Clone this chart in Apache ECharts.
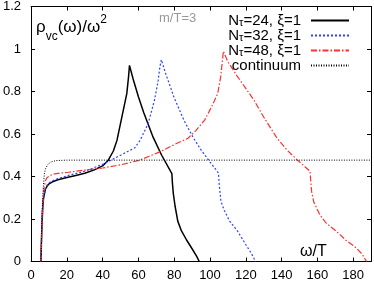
<!DOCTYPE html>
<html><head><meta charset="utf-8">
<script src="https://cdn.jsdelivr.net/npm/echarts@6/dist/echarts.min.js"></script>
<style>html,body{margin:0;padding:0;background:#fff}#c{width:374px;height:282px}</style>
</head><body><div id="c"></div>
<script>
// ---- data ----
const xTicks = [0, 20, 40, 60, 80, 100, 120, 140, 160, 180];
const yTicks = [0, 0.2, 0.4, 0.6, 0.8, 1, 1.2];
const names = ['Nτ=24, ξ=1', 'Nτ=32, ξ=1', 'Nτ=48, ξ=1', 'continuum'];

const w24 = [5.5, 6, 6.5, 7, 8, 9, 10, 12, 15, 20, 25, 30, 35, 40, 43, 46, 48, 50, 52, 53.5, 54.5, 55, 57, 60, 63, 65.5, 68.2, 73, 78.7, 79, 79.5, 80.5, 82, 84, 87, 90, 92.5, 94];
const r24 = [0, 0.15, 0.25, 0.3, 0.34, 0.355, 0.365, 0.375, 0.385, 0.395, 0.405, 0.415, 0.43, 0.45, 0.475, 0.52, 0.57, 0.65, 0.73, 0.79, 0.87, 0.923, 0.86, 0.775, 0.7, 0.645, 0.585, 0.5, 0.414, 0.37, 0.32, 0.26, 0.19, 0.145, 0.1, 0.06, 0.025, 0];

const w32 = [5.5, 6, 6.5, 7, 8, 9, 10, 12, 15, 21, 30, 40, 50, 58, 61, 65.5, 69, 71, 72, 72.8, 75, 80, 85.7, 90.5, 95, 99.7, 104.7, 105.2, 106.1, 108, 111, 115.4, 120, 123, 125.5];
const r32 = [0, 0.15, 0.25, 0.3, 0.34, 0.36, 0.37, 0.38, 0.39, 0.405, 0.425, 0.457, 0.5, 0.535, 0.571, 0.65, 0.76, 0.85, 0.915, 0.95, 0.89, 0.77, 0.66, 0.585, 0.525, 0.472, 0.417, 0.36, 0.284, 0.24, 0.19, 0.143, 0.08, 0.04, 0];

const w48 = [5.5, 6, 6.5, 7, 8, 9, 10, 12, 15, 21, 30, 40, 50, 60.7, 66, 72.8, 80, 87.7, 92, 97, 101, 104.3, 106, 107.5, 110, 115, 120, 124.6, 130, 137.5, 143, 148.5, 155.9, 156.4, 156.8, 158, 161.4, 165, 170.6, 176, 181.6, 185, 187.5];
const r48 = [0, 0.16, 0.27, 0.33, 0.38, 0.395, 0.402, 0.41, 0.415, 0.42, 0.43, 0.44, 0.455, 0.477, 0.495, 0.519, 0.55, 0.58, 0.615, 0.665, 0.73, 0.79, 0.87, 0.99, 0.94, 0.875, 0.815, 0.759, 0.68, 0.58, 0.525, 0.48, 0.425, 0.37, 0.33, 0.28, 0.22, 0.18, 0.143, 0.1, 0.065, 0.035, 0];

const wC = [5.5, 6, 6.5, 7, 7.4, 8, 9.3, 11, 14, 20, 190];
const rC = [0, 0.2, 0.3, 0.37, 0.41, 0.435, 0.456, 0.468, 0.475, 0.477, 0.477];

const zip = (a, b) => a.map((v, i) => [v, b[i]]);
const FONT = 'Liberation Sans, Arial, Helvetica, sans-serif';

const chart = echarts.init(document.getElementById('c'), null, {renderer: 'canvas'});
const axisCommon = {
  axisLine: {show: true, onZero: false, lineStyle: {color: '#000', width: 1}},
  axisTick: {show: true, inside: true, length: 4, lineStyle: {color: '#000'}},
  splitLine: {show: false}
};
chart.setOption({
  animation: false,
  grid: {left: 28, right: 1.5, top: 6, bottom: 20.5, containLabel: false},
  xAxis: [
    Object.assign({type: 'value', min: 0, max: 190, interval: 20, position: 'bottom',
      axisLabel: {color: '#000', fontFamily: FONT, fontSize: 13, margin: 7,
        formatter: v => xTicks.includes(v) ? String(v) : ''}}, axisCommon),
    Object.assign({type: 'value', min: 0, max: 190, interval: 20, position: 'top',
      axisLabel: {show: false}}, axisCommon)
  ],
  yAxis: [
    Object.assign({type: 'value', min: 0, max: 1.2, interval: 0.2, position: 'left',
      axisLabel: {color: '#000', fontFamily: FONT, fontSize: 13, margin: 10,
        formatter: v => { const t = yTicks.find(y => Math.abs(y - v) < 1e-9); return t === undefined ? '' : String(t); }}}, axisCommon),
    Object.assign({type: 'value', min: 0, max: 1.2, interval: 0.2, position: 'right',
      axisLabel: {show: false}}, axisCommon)
  ],
  legend: {
    orient: 'vertical', right: 19, top: 8, align: 'right',
    itemWidth: 38, itemHeight: 10, itemGap: 0,
    data: names,
    itemStyle: {color: 'transparent', borderColor: 'transparent', borderWidth: 0, opacity: 0},
    formatter: function (name) {
      if (name === 'continuum') return '{t|continuum}';
      return '{t|N}{s|τ}{t|' + name.slice(2) + '}';
    },
    textStyle: {
      color: '#000', fontFamily: FONT, fontSize: 15, lineHeight: 15, padding: [0, 5, 0, 0],
      rich: {
        t: {fontSize: 15, fontFamily: FONT, color: '#000', lineHeight: 15},
        s: {fontSize: 11, fontFamily: FONT, color: '#000', verticalAlign: 'bottom', lineHeight: 9}
      }
    }
  },
  graphic: [
    {type: 'text', left: 36, top: 14, silent: true,
      style: {
        text: '{a|ρ}{b|vc}{a|(ω)/ω}{c|2}',
        rich: {
          a: {fontSize: 17, fontFamily: FONT, fill: '#000', lineHeight: 22, verticalAlign: 'bottom'},
          b: {fontSize: 12, fontFamily: FONT, fill: '#000', lineHeight: 22, verticalAlign: 'bottom', padding: [0, 0, -7, 0]},
          c: {fontSize: 12, fontFamily: FONT, fill: '#000', lineHeight: 22, verticalAlign: 'top'}
        }
      }},
    {type: 'text', left: 159, top: 12, silent: true,
      style: {text: 'm/T=3', fontSize: 13, fontFamily: FONT, fill: '#999'}},
    {type: 'text', left: 300, top: 244, silent: true,
      style: {text: 'ω/T', fontSize: 16, fontFamily: FONT, fill: '#000'}}
  ],
  series: [
    {name: names[0], type: 'line', data: zip(w24, r24), symbol: 'none', smooth: false,
      lineStyle: {color: '#000', width: 1.5, type: 'solid'}, itemStyle: {color: '#000'}},
    {name: names[1], type: 'line', data: zip(w32, r32), symbol: 'none', smooth: false,
      lineStyle: {color: '#3040ff', width: 1.2, type: [2, 2]}, itemStyle: {color: '#3040ff'}},
    {name: names[2], type: 'line', data: zip(w48, r48), symbol: 'none', smooth: false,
      lineStyle: {color: '#ff3030', width: 1.2, type: [6, 2, 1.5, 2]}, itemStyle: {color: '#ff3030'}},
    {name: names[3], type: 'line', data: zip(wC, rC), symbol: 'none', smooth: false,
      lineStyle: {color: '#000', width: 1, type: [1, 1.5]}, itemStyle: {color: '#000'}}
  ]
});
</script></body></html>
